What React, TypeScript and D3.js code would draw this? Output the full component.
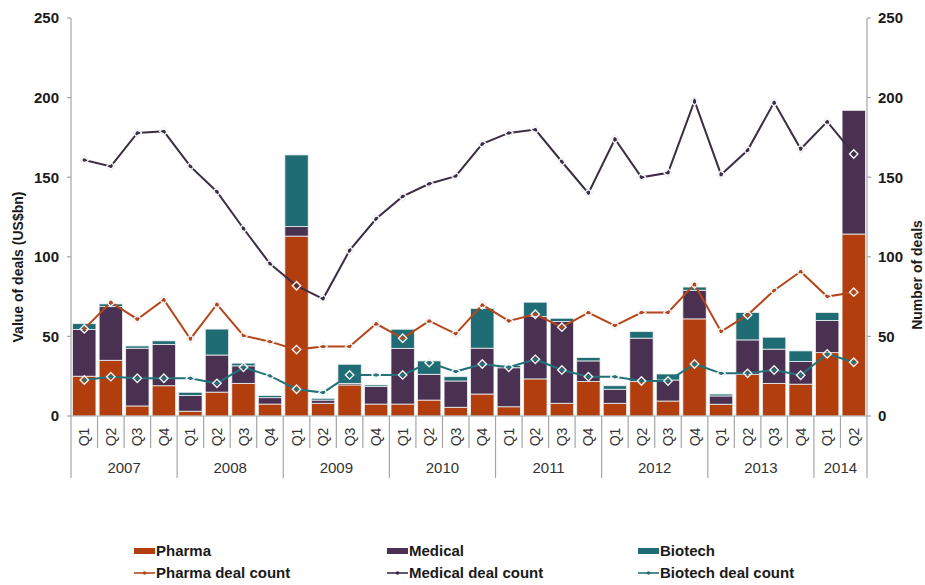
import React from 'react'
import * as d3 from 'd3'

// quarters 2007 Q1 .. 2014 Q2
const years = ['2007', '2008', '2009', '2010', '2011', '2012', '2013', '2014']
const quartersPerYear = [4, 4, 4, 4, 4, 4, 4, 2]
const quarters = years.flatMap((y, i) => d3.range(quartersPerYear[i]).map((q) => `Q${q + 1}`))

// value of deals (US$bn)
const pharma = [25, 35, 6.3, 19, 3, 15, 20.5, 7.5, 113, 8, 19.5, 7.5, 7.5, 10, 5.5, 13.8, 5.8, 23.3, 8, 21.6, 8, 21.6, 9.4, 61, 7.4, 26.2, 20.5, 20, 39.8, 114.3]
const medical = [29.3, 33.7, 36.3, 26, 9.8, 23.3, 11, 4, 6, 2, 1, 11, 35, 16.2, 16.5, 28.8, 24.5, 39.2, 51.3, 13, 8.8, 27.3, 13.2, 18, 5.2, 21.6, 21.5, 14.2, 20.2, 77.7]
const biotech = [3.7, 1.7, 1.4, 2.2, 2.1, 16.3, 1.7, 1.3, 45, 1.1, 12, 1, 12, 8.4, 2.7, 25, 1.5, 9, 2.1, 2.1, 2.2, 4.1, 3.8, 2, 1.2, 17.2, 7.5, 6.7, 5, 0]

// number of deals
const pharmaCount = [54.7, 71.5, 60.8, 73, 48.4, 70.2, 50.5, 46.7, 41.7, 43.6, 43.6, 57.9, 48.8, 59.7, 51.6, 69.8, 59.7, 63.9, 55.8, 65, 56.8, 65, 65, 82.8, 53, 63.5, 78.8, 90.8, 75, 77.8]
const medicalCount = [160.8, 156.8, 177.8, 178.8, 156.8, 140.9, 117.8, 95.6, 81.8, 73.6, 104, 123.9, 137.9, 145.9, 150.7, 170.9, 177.8, 179.9, 159.7, 140, 174, 149.9, 152.8, 197.9, 151.6, 166.9, 197, 167.7, 184.9, 164.6]
const biotechCount = [22.6, 24.7, 23.7, 23.7, 23.7, 20.5, 30.6, 25.2, 16.8, 14.7, 25.8, 25.8, 25.8, 33.5, 27.9, 32.7, 30.6, 35.6, 28.9, 24.7, 24.7, 22, 22, 32.7, 26.8, 26.8, 28.9, 25.6, 39, 33.8]

const yTicks = [0, 50, 100, 150, 200, 250]

const colors = { pharma: '#B23E0E', medical: '#4A3152', biotech: '#1F6C74' }
const lineColors = { pharma: '#B5461C', medical: '#3D2D44', biotech: '#237179' }

const W = 925
const H = 585
const margin = { top: 18, right: 58, bottom: 169, left: 71 }
const font = '"Liberation Sans", Arial, sans-serif'

const App = () => {
  const x = d3
    .scaleBand<number>()
    .domain(d3.range(quarters.length))
    .range([margin.left, W - margin.right])
    .paddingInner(0.12)
    .paddingOuter(0.06)
  const y = d3.scaleLinear().domain([0, 250]).range([H - margin.bottom, margin.top])
  const y2 = d3.scaleLinear().domain([0, 250]).range([H - margin.bottom, margin.top])
  const step = x.step()
  const x0 = margin.left
  const x1 = W - margin.right
  const base = y(0)

  const stacked = d3
    .stack<number>()
    .keys(['pharma', 'medical', 'biotech'])
    .value((i, k) => (k === 'pharma' ? pharma[i] : k === 'medical' ? medical[i] : biotech[i]))(
    d3.range(quarters.length)
  )

  const cx = (i: number) => (x(i) as number) + x.bandwidth() / 2
  const line = d3
    .line<number>()
    .x((_, i) => cx(i))
    .y((d) => y2(d))

  const series = [
    { key: 'medical', data: medicalCount },
    { key: 'pharma', data: pharmaCount },
    { key: 'biotech', data: biotechCount },
  ]

  // year boundaries in band index
  let acc = 0
  const yearSpans = years.map((yr, i) => {
    const start = acc
    acc += quartersPerYear[i]
    return { yr, start, end: acc }
  })

  const legend = [
    { key: 'pharma', label: 'Pharma', col: 0 },
    { key: 'medical', label: 'Medical', col: 1 },
    { key: 'biotech', label: 'Biotech', col: 2 },
  ]
  const legendX = [134, 387, 638]

  return (
    <svg width={W} height={H} style={{ position: 'absolute', left: 0, top: 0, background: '#fff' }} fontFamily={font}>
      {/* bars */}
      <g>
        {stacked.map((s) => (
          <g key={s.key} fill={colors[s.key as keyof typeof colors]}>
            {s.map((d, i) =>
              d[1] - d[0] > 0 ? (
                <rect
                  key={i}
                  x={x(i)}
                  width={x.bandwidth()}
                  y={y(d[1])}
                  height={y(d[0]) - y(d[1])}
                  stroke='#eef0f0'
                  strokeWidth={0.8}
                />
              ) : null
            )}
          </g>
        ))}
      </g>

      {/* axes */}
      <g stroke='#a6a6a6' strokeWidth={1.2}>
        <line x1={x0} x2={x0} y1={y(250)} y2={base} />
        <line x1={x1} x2={x1} y1={y(250)} y2={base} />
        <line x1={x0} x2={x1} y1={base} y2={base} />
        {yTicks.map((t) => (
          <g key={t}>
            <line x1={x0 - 4} x2={x0} y1={y(t)} y2={y(t)} />
            <line x1={x1} x2={x1 + 4} y1={y2(t)} y2={y2(t)} />
          </g>
        ))}
        {d3.range(quarters.length + 1).map((i) => {
          const isYear = yearSpans.some((s) => s.start === i) || i === quarters.length
          const xx = x0 + step * i
          return <line key={i} x1={xx} x2={xx} y1={base} y2={isYear ? 478 : 448} />
        })}
      </g>
      <g fontSize={15} fontWeight='bold' fill='#1a1a1a'>
        {yTicks.map((t) => (
          <g key={t}>
            <text x={x0 - 12} y={y(t)} dy='0.36em' textAnchor='end'>
              {t}
            </text>
            <text x={x1 + 11} y={y2(t)} dy='0.36em'>
              {t}
            </text>
          </g>
        ))}
      </g>
      <g fontSize={14} fill='#333'>
        {quarters.map((q, i) => (
          <text key={i} transform={`translate(${cx(i)},437) rotate(-90)`} textAnchor='middle' dy='0.36em'>
            {q}
          </text>
        ))}
      </g>
      <g fontSize={15} fill='#333'>
        {yearSpans.map((s) => (
          <text key={s.yr} x={x0 + step * (s.start + s.end) / 2} y={468} dy='0.36em' textAnchor='middle'>
            {s.yr}
          </text>
        ))}
      </g>
      <text
        transform={`translate(18,${(y(0) + y(250)) / 2 + 50}) rotate(-90)`}
        textAnchor='middle'
        dy='0.36em'
        fontSize={14}
        fontWeight='bold'
        fill='#1a1a1a'
      >
        Value of deals (US$bn)
      </text>
      <text
        transform={`translate(917,${(y(0) + y(250)) / 2 + 58}) rotate(-90)`}
        textAnchor='middle'
        dy='0.36em'
        fontSize={14}
        fontWeight='bold'
        fill='#1a1a1a'
      >
        Number of deals
      </text>

      {/* deal count lines */}
      {series.map((s) => {
        const c = lineColors[s.key as keyof typeof lineColors]
        return (
          <g key={s.key}>
            <path d={line(s.data) || ''} fill='none' stroke={c} strokeWidth={2} />
            {s.data.map((v, i) => (
              <g key={i} transform={`translate(${cx(i)},${y2(v)})`}>
                <path d='M0,-4.2L4.2,0L0,4.2L-4.2,0Z' fill='none' stroke='#eef2f2' strokeWidth={1.4} />
                <circle r={1.7} fill={c} />
              </g>
            ))}
          </g>
        )
      })}

      {/* legend */}
      <g fontSize={15} fontWeight='bold' fill='#1a1a1a'>
        {legend.map((l) => {
          const lx = legendX[l.col]
          const c = lineColors[l.key as keyof typeof lineColors]
          return (
            <g key={l.key}>
              <rect x={lx} y={548} width={21} height={6} fill={colors[l.key as keyof typeof colors]} />
              <text x={lx + 22} y={551} dy='0.36em'>
                {l.label}
              </text>
              <line x1={lx} x2={lx + 21} y1={573} y2={573} stroke={c} strokeWidth={1.6} />
              <circle cx={lx + 10.5} cy={573} r={1.8} fill={c} />
              <text x={lx + 22} y={573} dy='0.36em'>
                {l.label} deal count
              </text>
            </g>
          )
        })}
      </g>
    </svg>
  )
}

export default App
